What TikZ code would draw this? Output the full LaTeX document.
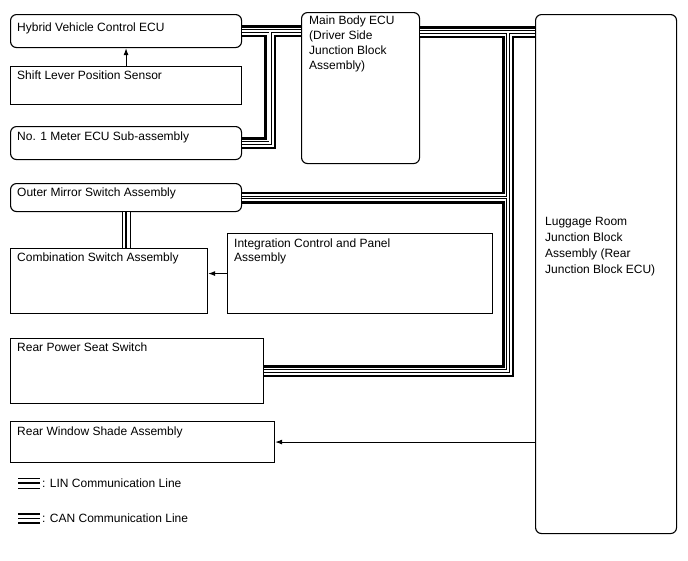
\documentclass[tikz,border=0pt]{standalone}
\usepackage{fontspec}
\setmainfont{Liberation Sans}
\usetikzlibrary{arrows.meta}
\tikzset{
  box/.style={draw, line width=1.1pt, anchor=north west, inner sep=0pt},
  rbox/.style={box, rounded corners=6pt},
  txt/.style={anchor=north west, inner sep=0pt, align=left, font=\fontsize{12}{15}\selectfont},
  arr/.style={line width=1pt, -{Latex[length=7pt,width=5pt]}},
}
% bus paths, drawn in layers
\newcommand{\canbus}{(hv.east) -- (hv.east -| mb.west) (j1) |- (mt.east)
  (j2 -| mb.east) -- (j2 -| lug.west) (j2) |- (rps.east) (om.east) -- (om.east -| j2)}
\newcommand{\linbus}{(om.south) -- (om.south |- comb.north)}
\begin{document}
\begin{tikzpicture}[x=1pt,y=-1pt]
        \useasboundingbox (0,0) rectangle (688,560);
        \node[rbox, minimum width=231, minimum height=33] (hv) at (10,14) {};
        \node[box, minimum width=231, minimum height=38] (sl) at (10,66) {};
        \node[rbox, minimum width=231, minimum height=33] (mt) at (10,126) {};
        \node[rbox, minimum width=118, minimum height=151] (mb) at (301,12) {};
        \node[rbox, minimum width=141, minimum height=519] (lug) at (535,14) {};
        \node[rbox, minimum width=231, minimum height=28] (om) at (10,183) {};
        \node[box, minimum width=197, minimum height=65] (comb) at (10,248) {};
        \node[box, minimum width=265, minimum height=80] (ic) at (227,233) {};
        \node[box, minimum width=253, minimum height=65] (rps) at (10,338) {};
        \node[box, minimum width=264, minimum height=41] (rws) at (10,421) {};

        \node[txt] (hvt) at ([shift={(7,9)}]hv.north west) {Hybrid Vehicle Control ECU};
        \node[txt] (slt) at ([shift={(7,5)}]sl.north west) {Shift Lever Position Sensor};
        \node[txt] (mtt) at ([shift={(7,6)}]mt.north west) {No. 1 Meter ECU Sub-assembly};
        \node[txt] (mbt) at ([shift={(8,4)}]mb.north west) {Main Body ECU\\(Driver Side\\Junction Block\\Assembly)};
        \node[txt, font=\fontsize{12}{16}\selectfont] (lugt) at ([shift={(10,203)}]lug.north west) {Luggage Room\\Junction Block\\Assembly (Rear\\Junction Block ECU)};
        \node[txt] (omt) at ([shift={(7,5)}]om.north west) {Outer Mirror Switch Assembly};
        \node[txt] (combt) at ([shift={(7,5)}]comb.north west) {Combination Switch Assembly};
        \node[txt, font=\fontsize{12}{14}\selectfont] (ict) at ([shift={(7,6)}]ic.north west) {Integration Control and Panel\\Assembly};
        \node[txt] (rpst) at ([shift={(7,5)}]rps.north west) {Rear Power Seat Switch};
        \node[txt] (rwst) at ([shift={(7,6)}]rws.north west) {Rear Window Shade Assembly};

        \coordinate (j1) at ([xshift=28]hv.east);
        \coordinate (j2) at (508,32);
        \foreach \w/\c in {12/black,7/white,3.2/black,1.6/white}{
          \draw[line width=\w pt, \c] \canbus;
        }
        \foreach \w/\c in {9/black,7/white,2.5/black}{
          \draw[line width=\w pt, \c] \linbus;
        }

        \draw[arr] (sl.north) -- (hv.south);
        \draw[arr] (ic.west) -- (ic.west -| comb.east);
        \draw[arr] (rws.east -| lug.west) -- (rws.east);

        % legend
        \foreach \w/\c in {11/black,9/white,2.5/black}{
          \draw[line width=\w pt, \c] (18,483) -- (40,483);
        }
        \foreach \w/\c in {11/black,7/white,1/black}{
          \draw[line width=\w pt, \c] (18,518) -- (40,518);
        }
        \node[txt, anchor=west] (linkey) at (42,483) {: LIN Communication Line};
        \node[txt, anchor=west] (cankey) at (42,518) {: CAN Communication Line};
      \end{tikzpicture}
\end{document}
